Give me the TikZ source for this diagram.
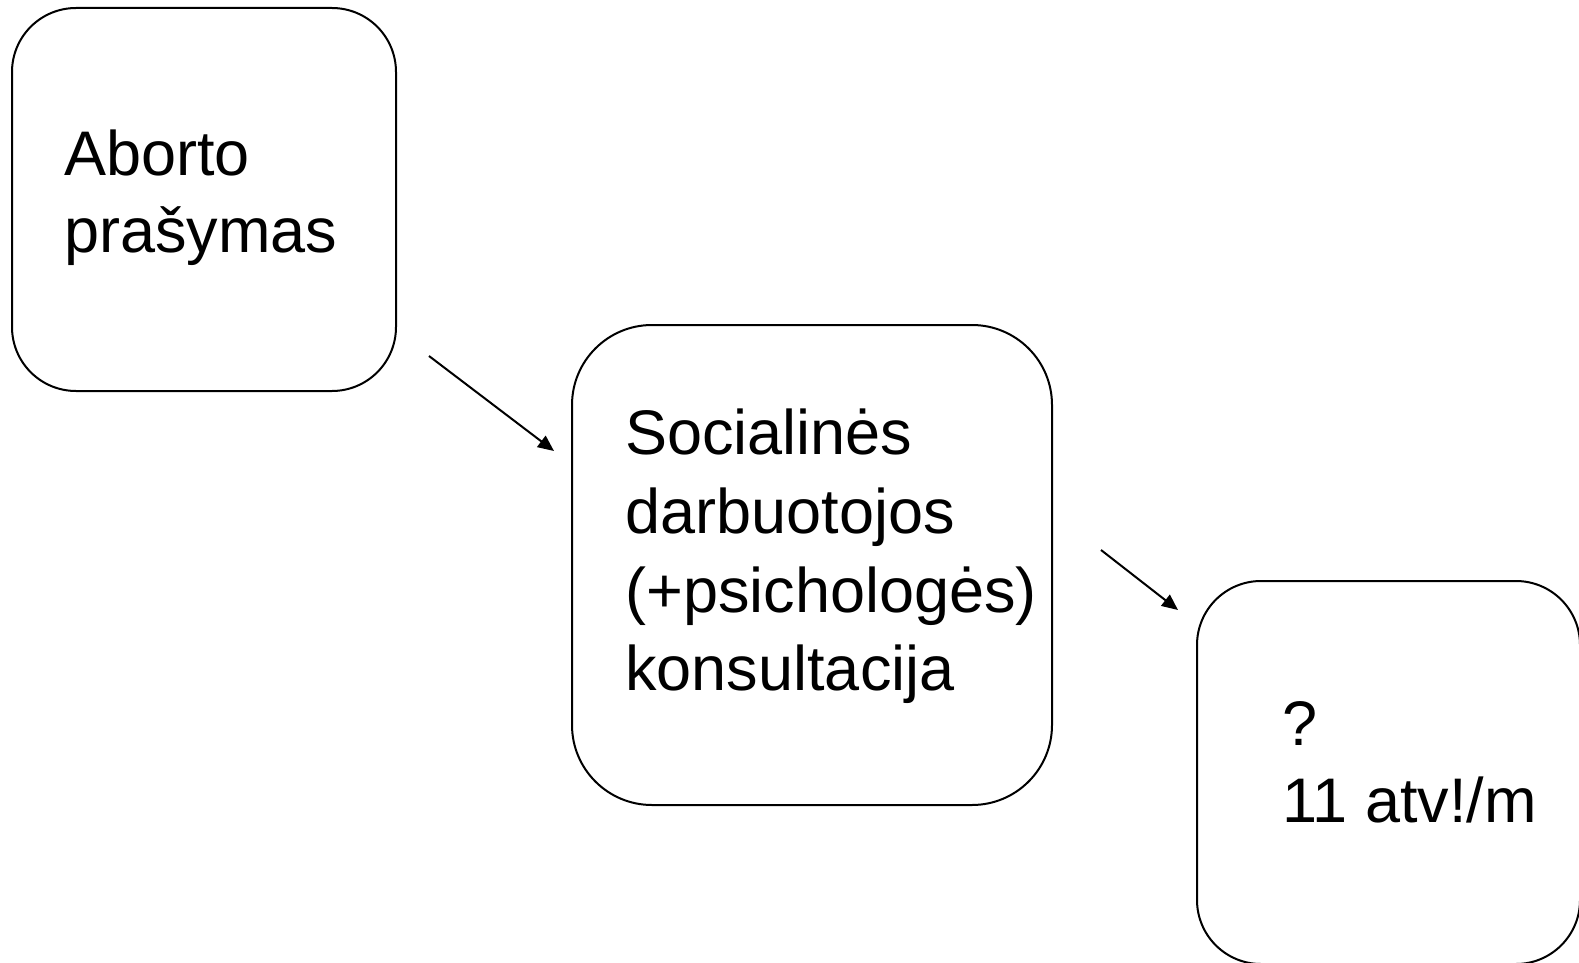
\documentclass[tikz,border=0pt]{standalone}
\usepackage{fontspec}
\setmainfont{Liberation Sans}
\usetikzlibrary{arrows.meta}

\begin{document}
\begin{tikzpicture}
  [x=0.5pt,y=-0.5pt,
   box/.style={draw,line width=1pt,inner sep=0pt},
   txt/.style={inner sep=0pt,align=left,anchor=west,
     font=\fontsize{31.5pt}{38.5pt}\selectfont},
   arr/.style={line width=1pt,-{Triangle[length=8pt,width=7pt]}}]
  \useasboundingbox (0,0) rectangle (1579,963);

  \node[box,minimum width=192pt,minimum height=191.5pt,rounded corners=32pt] (prasymas) at (204,199.5) {};
  \node[box,minimum width=240pt,minimum height=240pt,rounded corners=40pt] (konsult) at (812,565) {};
  \node[box,minimum width=191.5pt,minimum height=191.5pt,rounded corners=32pt] (atv) at (1388.5,772.5) {};

  \node[txt] (prasymastxt) at (64,198) {Aborto\\prašymas};
  \node[txt,font=\fontsize{31.5pt}{39.3pt}\selectfont] (konsulttxt) at (625,556.5) {Socialinės\\darbuotojos\\(+psichologės)\\konsultacija};
  \node[txt] (atvtxt) at (1282,762) {?\\11 atv!/m};

  \coordinate (p1) at ([shift={(32,-36)}]prasymas.south east);
  \coordinate (k1) at ([shift={(-17,127)}]konsult.north west);
  \coordinate (k2) at ([shift={(48,226)}]konsult.north east);
  \coordinate (a1) at ([shift={(-18,30)}]atv.north west);

  \foreach \from/\to in {p1/k1, k2/a1}
    \draw[arr] (\from) -- (\to);

\end{tikzpicture}
\end{document}
